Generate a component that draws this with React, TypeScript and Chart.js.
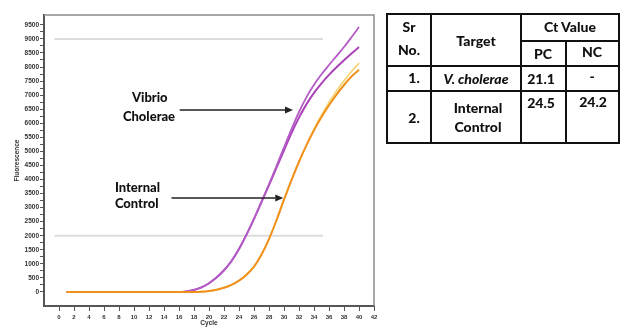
import React, { useEffect, useRef } from 'react';
import { Chart, registerables } from 'chart.js';

Chart.register(...registerables);

// ---- Data ----
const cycles = [1, 2, 3, 4, 5, 6, 7, 8, 9, 10, 11, 12, 13, 14, 15, 16, 17, 18, 19, 20, 21, 22, 23, 24, 25, 26, 27, 28, 29, 30, 31, 32, 33, 34, 35, 36, 37, 38, 39, 40];

const vibrioUpper = [0, 0, 0, 0, 0, 0, 0, 0, 0, 0, 0, 0, 0, 0, 0, 0, 20, 70, 160, 310, 510, 770, 1100, 1530, 2040, 2600, 3200, 3830, 4480, 5140, 5790, 6400, 6930, 7370, 7740, 8070, 8390, 8710, 9060, 9420];
const vibrioLower = [0, 0, 0, 0, 0, 0, 0, 0, 0, 0, 0, 0, 0, 0, 0, 0, 20, 70, 160, 310, 510, 770, 1100, 1530, 2040, 2600, 3200, 3800, 4420, 5040, 5650, 6200, 6680, 7080, 7420, 7720, 7990, 8240, 8480, 8710];
const internalMain = [0, 0, 0, 0, 0, 0, 0, 0, 0, 0, 0, 0, 0, 0, 0, 0, 0, 0, 10, 35, 80, 150, 250, 400, 610, 900, 1330, 1880, 2550, 3280, 3980, 4630, 5220, 5750, 6220, 6640, 7020, 7360, 7660, 7900];
const internalAlt = [0, 0, 0, 0, 0, 0, 0, 0, 0, 0, 0, 0, 0, 0, 0, 0, 0, 0, 10, 35, 80, 150, 250, 400, 610, 900, 1330, 1880, 2550, 3280, 3980, 4630, 5230, 5790, 6290, 6740, 7150, 7510, 7840, 8140];

const xTickValues = [0, 2, 4, 6, 8, 10, 12, 14, 16, 18, 20, 22, 24, 26, 28, 30, 32, 34, 36, 38, 40, 42];
const yTickValues = [0, 500, 1000, 1500, 2000, 2500, 3000, 3500, 4000, 4500, 5000, 5500, 6000, 6500, 7000, 7500, 8000, 8500, 9000, 9500];
const thresholdValues = [9000, 2000];

const labelVibrio = ['Vibrio', 'Cholerae'];
const labelInternal = ['Internal', 'Control'];

// table
const tableHead = { sr: ['Sr', 'No.'], target: 'Target', ct: 'Ct Value', pc: 'PC', nc: 'NC' };
const rowNumbers = ['1.', '2.'];
const rowTargets = ['V. cholerae', 'Internal Control'];
const pcValues = ['21.1', '24.5'];
const ncValues = ['-', '24.2'];

const PURPLE = '#ab42ba';
const PURPLE_LIGHT = '#b45cc6';
const ORANGE = '#f0911c';
const YELLOW = '#f3d36e';

const toPoints = (vals: number[]) => cycles.map((c, i) => ({ x: c, y: vals[i] }));

function drawArrow(ctx: CanvasRenderingContext2D, x1: number, y1: number, x2: number, y2: number) {
  const head = 8;
  const half = 3.5;
  ctx.strokeStyle = '#222';
  ctx.fillStyle = '#222';
  ctx.lineWidth = 1.5;
  ctx.beginPath();
  ctx.moveTo(x1, y1);
  ctx.lineTo(x2 - head, y2);
  ctx.stroke();
  ctx.beginPath();
  ctx.moveTo(x2, y2);
  ctx.lineTo(x2 - head, y2 - half);
  ctx.lineTo(x2 - head, y2 + half);
  ctx.closePath();
  ctx.fill();
}

const overlayPlugin = {
  id: 'overlay',
  beforeDatasetsDraw(chart: any) {
    const { ctx, chartArea, scales } = chart;
    const { x, y } = scales;
    ctx.save();
    ctx.strokeStyle = '#8c8c8c';
    ctx.lineWidth = 1.5;
    ctx.beginPath();
    ctx.moveTo(chartArea.left, chartArea.top);
    ctx.lineTo(chartArea.right, chartArea.top);
    ctx.lineTo(chartArea.right, chartArea.bottom);
    ctx.stroke();
    ctx.strokeStyle = '#dcdcdc';
    ctx.lineWidth = 2;
    for (const t of thresholdValues) {
      const py = y.getPixelForValue(t);
      ctx.beginPath();
      ctx.moveTo(x.getPixelForValue(-0.6), py);
      ctx.lineTo(x.getPixelForValue(35.2), py);
      ctx.stroke();
    }
    ctx.restore();
  },
  afterDatasetsDraw(chart: any) {
    const { ctx, scales } = chart;
    const { x, y } = scales;
    ctx.save();
    const ay1 = y.getPixelForValue(6470);
    drawArrow(ctx, x.getPixelForValue(16.1), ay1, x.getPixelForValue(31.2), ay1);
    const ay2 = y.getPixelForValue(3340);
    drawArrow(ctx, x.getPixelForValue(15.0), ay2, x.getPixelForValue(29.9), ay2);
    ctx.fillStyle = '#111';
    ctx.font = '900 13px Lato, "Liberation Sans", sans-serif';
    ctx.textAlign = 'center';
    ctx.textBaseline = 'middle';
    ctx.fillText(labelVibrio[0], x.getPixelForValue(12.1), y.getPixelForValue(6900));
    ctx.fillText(labelVibrio[1], x.getPixelForValue(12.0), y.getPixelForValue(6230));
    ctx.textAlign = 'left';
    ctx.fillText(labelInternal[0], x.getPixelForValue(7.45), y.getPixelForValue(3715));
    ctx.fillText(labelInternal[1], x.getPixelForValue(7.45), y.getPixelForValue(3130));
    ctx.restore();
  },
};

function ChartView() {
  const ref = useRef<HTMLCanvasElement | null>(null);
  useEffect(() => {
    if (!ref.current) return;
    const tickFont = { family: '"Liberation Sans", Arial, sans-serif', size: 6, weight: 'bold' as const };
    const line = (vals: number[], color: string, width: number) => ({
      data: toPoints(vals),
      borderColor: color,
      borderWidth: width,
      pointRadius: 0,
      cubicInterpolationMode: 'monotone' as const,
      fill: false,
    });
    const chart = new Chart(ref.current, {
      type: 'line',
      data: {
        datasets: [
          line(internalMain, ORANGE, 2),
          line(internalAlt, YELLOW, 1.6),
          line(vibrioUpper, PURPLE_LIGHT, 1.8),
          line(vibrioLower, PURPLE, 2),
        ],
      },
      options: {
        animation: false,
        responsive: false,
        events: [],
        layout: { padding: { left: 0, top: 15, right: 11, bottom: 0 } },
        plugins: { legend: { display: false }, tooltip: { enabled: false } },
        scales: {
          x: {
            type: 'linear',
            min: -2,
            max: 42,
            afterBuildTicks: (s: any) => { s.ticks = xTickValues.map((v) => ({ value: v })); },
            afterFit: (s: any) => { s.height = 26; },
            grid: { drawOnChartArea: false, drawTicks: true, tickLength: 5, color: '#555', lineWidth: 1 },
            border: { display: true, color: '#555', width: 2 },
            ticks: { font: tickFont, color: '#333', padding: 3, maxRotation: 0, autoSkip: false, callback: (v: any) => String(v) },
            title: { display: true, text: 'Cycle', font: { family: '"Liberation Sans", Arial, sans-serif', size: 6.5, weight: 'bold' }, color: '#333', padding: { top: 0, bottom: 5 } },
          },
          y: {
            type: 'linear',
            min: -500,
            max: 9850,
            afterBuildTicks: (s: any) => {
              const t: any[] = [];
              yTickValues.forEach((v, i) => {
                t.push({ value: v });
                if (i < yTickValues.length - 1) t.push({ value: v + 250 });
              });
              s.ticks = t;
            },
            afterFit: (s: any) => { s.width = 44; },
            grid: { drawOnChartArea: false, drawTicks: true, tickLength: 4, color: '#555', lineWidth: 1 },
            border: { display: true, color: '#555', width: 2 },
            ticks: {
              font: { family: '"Liberation Sans", Arial, sans-serif', size: 6.5, weight: 'bold' },
              color: '#333',
              padding: 1,
              autoSkip: false,
              callback: (v: any) => (yTickValues.includes(Number(v)) ? String(v) : ''),
            },
            title: { display: true, text: 'Fluorescence', font: { family: '"Liberation Sans", Arial, sans-serif', size: 6.5, weight: 'bold' }, color: '#333', padding: { top: 13, bottom: 0 } },
          },
        },
      },
      plugins: [overlayPlugin],
    } as any);
    return () => chart.destroy();
  }, []);
  return <canvas ref={ref} width={385} height={332} style={{ position: 'absolute', left: 0, top: 0 }} />;
}

const txt = (content: React.ReactNode, cx: number, cy: number, extra: React.CSSProperties = {}) => (
  <div
    style={{
      position: 'absolute',
      left: cx,
      top: cy,
      transform: 'translate(-50%, -50%)',
      whiteSpace: 'nowrap',
      lineHeight: 1,
      ...extra,
    }}
  >
    {content}
  </div>
);

const hLine = (x1: number, x2: number, yy: number) => (
  <div style={{ position: 'absolute', left: x1, top: yy - 1, width: x2 - x1, height: 2, background: '#111' }} />
);
const vLine = (xx: number, y1: number, y2: number) => (
  <div style={{ position: 'absolute', left: xx - 1, top: y1, width: 2, height: y2 - y1, background: '#111' }} />
);

function ResultTable() {
  const L = 387, R = 619, T = 14, B = 143;
  const c1 = 431, c2 = 521, c3 = 566;
  const r1 = 41, r2 = 66, r3 = 91;
  return (
    <div style={{ position: 'absolute', left: 0, top: 0, width: 623, height: 332, fontFamily: 'Lato, "Liberation Sans", sans-serif', fontWeight: 900, fontSize: 14, color: '#111' }}>
      {hLine(L - 1, R + 1, T)}
      {hLine(L - 1, R + 1, B)}
      {vLine(L, T, B)}
      {vLine(R, T, B)}
      {vLine(c1, T, B)}
      {vLine(c2, T, B)}
      {vLine(c3, r1, B)}
      {hLine(c2, R, r1)}
      {hLine(L, R, r2)}
      {hLine(L, R, r3)}
      {txt(tableHead.sr[0], 409, 27)}
      {txt(tableHead.sr[1], 409, 50)}
      {txt(tableHead.target, 476, 41)}
      {txt(tableHead.ct, 570, 27)}
      {txt(tableHead.pc, 543, 54)}
      {txt(tableHead.nc, 592, 52)}
      {txt(rowNumbers[0], 414, 78)}
      {txt(<i>{rowTargets[0]}</i>, 476, 79)}
      {txt(pcValues[0], 541, 79)}
      {txt(ncValues[0], 592, 76)}
      {txt(rowNumbers[1], 414, 118)}
      {txt(rowTargets[1].split(' ')[0], 478, 108)}
      {txt(rowTargets[1].split(' ')[1], 478, 127)}
      {txt(pcValues[1], 541, 103)}
      {txt(ncValues[1], 593, 102)}
    </div>
  );
}

export default function App() {
  return (
    <div style={{ position: 'absolute', left: 0, top: 0, width: 623, height: 332, background: '#fff', overflow: 'hidden' }}>
      <ChartView />
      <ResultTable />
    </div>
  );
}
